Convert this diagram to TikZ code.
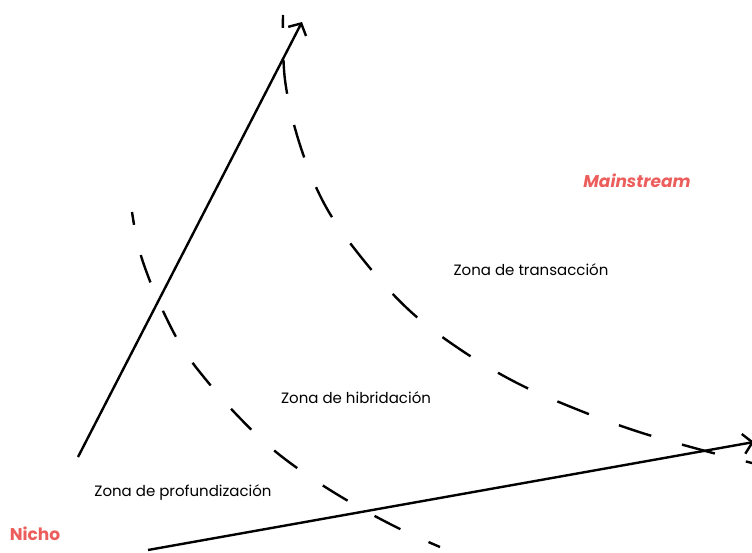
\documentclass[tikz,border=0pt]{standalone}
\usepackage{fontspec}
\setmainfont{Poppins}
\usetikzlibrary{arrows.meta}
\definecolor{coral}{RGB}{236,94,92}
\tikzset{
  axis/.style={line width=2.4pt,-{Straight Barb[length=9pt,width=20pt,line width=2.4pt]}},
  zone/.style={line width=2.4pt,dash pattern=on 34pt off 32pt,dash phase=21pt},
  zonein/.style={line width=2.4pt,dash pattern=on 29pt off 31pt,dash phase=16pt},
  lbl/.style={font=\fontsize{15}{17}\selectfont,inner sep=0pt},
  hot/.style={font=\fontsize{17}{19}\selectfont\bfseries,text=coral,inner sep=0pt}
}
\begin{document}
\begin{tikzpicture}[x=1pt,y=-1pt]
\useasboundingbox (0,0) rectangle (752,553);
\coordinate (o1) at (78,457);
\coordinate (t1) at (302,22);
\coordinate (o2) at (148,550);
\coordinate (t2) at (754,442);
\draw[axis] (o1) -- (t1);
\draw[axis] (o2) -- (t2);
\draw[zone] plot[smooth,tension=0.6] coordinates {(283,15) (285,80) (300,145) (326,207) (365,262) (410,311) (461,350) (517,383) (576,409) (636,431) (698,449) (756,464)};
\draw[zonein] plot[smooth,tension=0.6] coordinates {(132,212) (138,245) (148,276) (163,311) (183,349) (207,381) (235,413) (270,447) (310,477) (355,505) (400,529) (440,547)};
\node[hot,font=\fontsize{17}{19}\selectfont\bfseries\itshape] (ms) at (637,181) {Mainstream};
\node[hot] (ni) at (35,534) {Nicho};
\node[lbl] (zt) at (531,270) {Zona de transacción};
\node[lbl] (zh) at (356,398) {Zona de hibridación};
\node[lbl] (zp) at (183,493) {Zona de profundización};
\end{tikzpicture}
\end{document}
